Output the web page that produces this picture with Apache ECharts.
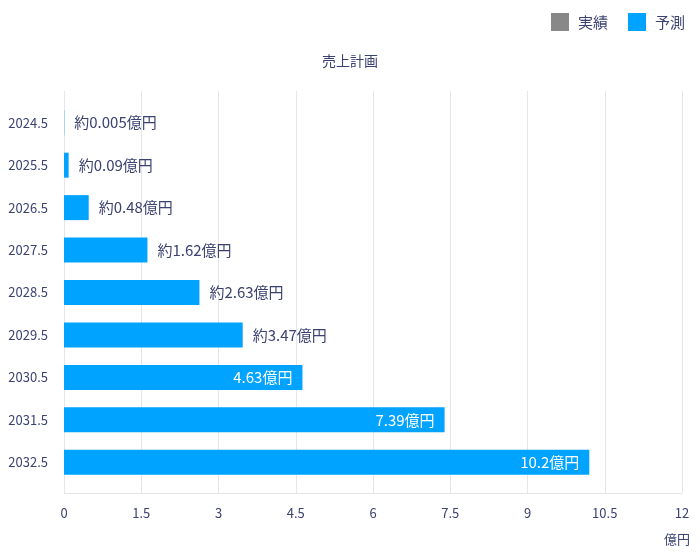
<!DOCTYPE html>
<html><head><meta charset="utf-8">
<script src="https://cdn.jsdelivr.net/npm/echarts@6/dist/echarts.min.js"></script>
<style>html,body{margin:0;padding:0;background:#fff}#c{width:700px;height:554px}</style>
</head><body><div id="c"></div>
<script>
const categories = ["2024.5","2025.5","2026.5","2027.5","2028.5","2029.5","2030.5","2031.5","2032.5"];
const actualValues = [];
const forecastValues = [0.005, 0.09, 0.48, 1.62, 2.63, 3.47, 4.63, 7.39, 10.2];
const valueLabels = ["約0.005億円","約0.09億円","約0.48億円","約1.62億円","約2.63億円","約3.47億円","4.63億円","7.39億円","10.2億円"];
const insideFlags = [false,false,false,false,false,false,true,true,true];
const xTicks = [0,1.5,3,4.5,6,7.5,9,10.5,12];

const FONT = '"Noto Sans CJK JP", "Noto Sans", sans-serif';
const TXT = '#3b4270';
const chart = echarts.init(document.getElementById('c'), null, {renderer:'canvas'});
chart.setOption({
  animation:false,
  textStyle:{fontFamily:FONT},
  title:{text:'売上計画', left:'center', top:49, textStyle:{fontSize:14, fontWeight:'normal', color:TXT, fontFamily:FONT}},
  legend:{right:10, top:8, itemWidth:18, itemHeight:18, itemGap:20, icon:'rect',
    textStyle:{fontSize:15, color:TXT, fontFamily:FONT, padding:[0,0,0,4]},
    data:['実績','予測']},
  grid:[
    {left:64, right:18, top:101.5, bottom:70.5, containLabel:false},
    {left:64, right:18, top:91, bottom:61, containLabel:false}
  ],
  xAxis:[
    {gridIndex:0, type:'value', min:xTicks[0], max:xTicks[xTicks.length-1], interval:1.5,
      axisLine:{show:false}, axisTick:{show:false}, axisLabel:{show:false}, splitLine:{show:false}},
    {gridIndex:1, type:'value', min:xTicks[0], max:xTicks[xTicks.length-1], interval:1.5,
      name:'億円', nameLocation:'end', nameGap:8,
      nameTextStyle:{fontSize:13, color:TXT, align:'right', verticalAlign:'top', padding:[40,0,0,0]},
      axisLine:{show:true, onZero:false, lineStyle:{color:'#e6e6ea'}}, axisTick:{show:false},
      axisLabel:{fontSize:13, color:TXT, margin:14},
      splitLine:{show:true, lineStyle:{color:'#e6e6ea'}}}
  ],
  yAxis:[
    {gridIndex:0, type:'category', inverse:true, data:categories,
      axisLine:{show:false}, axisTick:{show:false}, splitLine:{show:false},
      axisLabel:{fontSize:13, color:TXT, margin:16}},
    {gridIndex:1, type:'value', min:0, max:1, show:false}
  ],
  series:[
    {name:'実績', type:'bar', stack:'s', barWidth:25, xAxisIndex:0, yAxisIndex:0,
      itemStyle:{color:'#888888'}, data:actualValues},
    {name:'予測', type:'bar', stack:'s', barWidth:25, xAxisIndex:0, yAxisIndex:0,
      itemStyle:{color:'#00a3ff'},
      data:forecastValues.map((v,i)=>({value:v,
        label:{show:true, position:insideFlags[i]?'insideRight':'right', distance:10,
          color:insideFlags[i]?'#ffffff':TXT, fontSize:15, fontFamily:FONT,
          formatter:()=>valueLabels[i]}}))}
  ]
});
</script></body></html>
